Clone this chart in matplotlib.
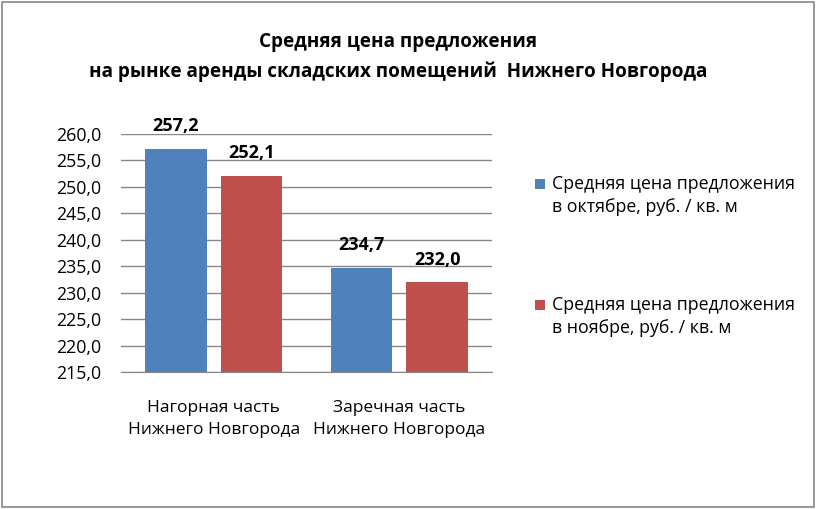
import numpy as np
import matplotlib.pyplot as plt
from matplotlib.patches import Rectangle

plt.rcParams['font.family'] = ['Open Sans', 'DejaVu Sans']

categories = ["Нагорная часть\nНижнего Новгорода", "Заречная часть\nНижнего Новгорода"]
october = [257.2, 234.7]
november = [252.1, 232.0]
series_names = ["Средняя цена предложения\nв октябре, руб. / кв. м",
                "Средняя цена предложения\nв ноябре, руб. / кв. м"]
colors = ["#4f81bd", "#c0504d"]

W, H = 817, 509
fig = plt.figure(figsize=(W / 100, H / 100), dpi=100)
fig.patches.append(Rectangle((1.5 / W, 2.5 / H), 812 / W, 505 / H, transform=fig.transFigure,
                             fill=False, edgecolor="#868686", linewidth=1.2))

# plot area in pixels: x 121..492, y 134..372
ax = fig.add_axes([121 / W, 1 - 372 / H, 371 / W, 238 / H])

x = np.arange(len(categories))
w = 0.333
off = 0.204
b1 = ax.bar(x - off, october, w, color=colors[0], zorder=3)
b2 = ax.bar(x + off, november, w, color=colors[1], zorder=3)

for bars, vals in ((b1, october), (b2, november)):
    for r, v in zip(bars, vals):
        ax.text(r.get_x() + r.get_width() / 2, v + 3.3, f"{v:.1f}".replace(".", ","),
                ha="center", va="baseline", fontsize=13, fontweight="bold")

ax.set_xlim(-0.5, 1.5)
ax.set_ylim(215, 260)
yt = np.arange(215, 261, 5)
ax.set_yticks(yt)
ax.set_yticklabels([f"{t:.1f}".replace(".", ",") for t in yt], fontsize=12.8)
ax.set_xticks(x)
ax.set_xticklabels(categories, fontsize=12.5, linespacing=1.55)
ax.yaxis.grid(True, color="#868686", linewidth=1.0, zorder=0)
for s in ("top", "right", "left"):
    ax.spines[s].set_visible(False)
ax.spines["bottom"].set_color("#868686")
ax.tick_params(axis="y", length=0, pad=14)
ax.tick_params(axis="x", length=0, pad=20)

fig.text(398 / W, 1 - 57 / H,
         "Средняя цена предложения\nна рынке аренды складских помещений  Нижнего Новгорода",
         ha="center", va="center", fontsize=13.6, fontweight="bold", linespacing=1.55)

# legend, square level with the first line of each entry
for i, (name, c) in enumerate(zip(series_names, colors)):
    top = 179 + i * 121
    fig.patches.append(Rectangle((535 / W, 1 - (top + 10) / H), 10 / W, 10 / H,
                                 transform=fig.transFigure, facecolor=c, edgecolor="none"))
    fig.text(552 / W, 1 - (top + 16.5) / H, name, ha="left", va="center",
             fontsize=12.8, linespacing=1.33)

fig.savefig("out.png", dpi=100)
